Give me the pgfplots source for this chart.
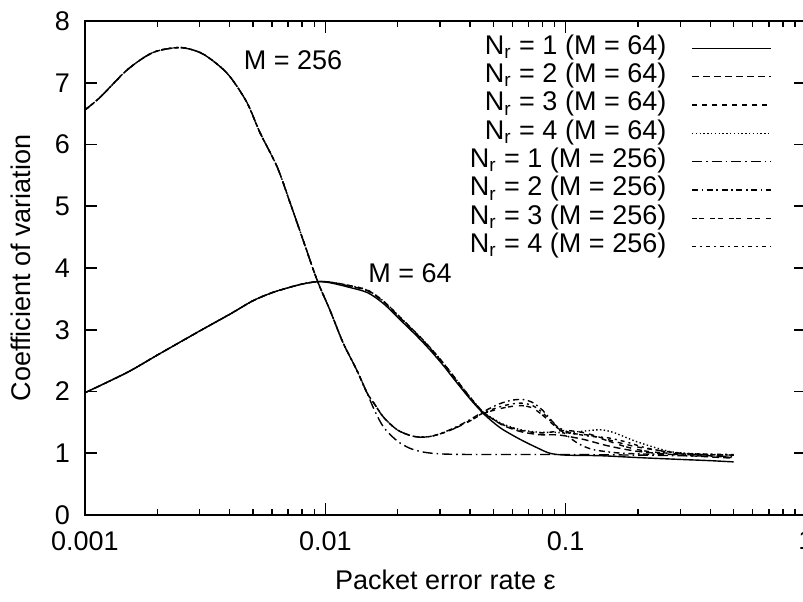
\documentclass[border=0pt]{standalone}
\usepackage{fontspec}
\setmainfont{Liberation Sans}
\usepackage{pgfplots}
\pgfplotsset{compat=1.18}
\newcommand{\Nr}{N\textsubscript{r}}
\begin{document}
\begin{tikzpicture}[font=\fontsize{13.5}{16}\selectfont]
\path[use as bounding box] (-42.5pt,-43pt) rectangle (359pt,257.5pt);
\begin{axis}[
  at={(0pt,0pt)}, anchor=south west,
  scale only axis, width=360.5pt, height=247pt,
  xmode=log, xmin=0.001, xmax=1, ymin=0, ymax=8,
  xtick={0.001,0.01,0.1,1}, xticklabels={0.001,0.01,0.1,1},
  minor xtick={0.002,0.003,0.004,0.005,0.006,0.007,0.008,0.009,0.02,0.03,0.04,0.05,0.06,0.07,0.08,0.09,0.2,0.3,0.4,0.5,0.6,0.7,0.8,0.9},
  ytick={0,1,2,3,4,5,6,7,8},
  /pgf/number format/assume math mode=true,
  axis line style={line width=1pt},
  major tick length=6pt, minor tick length=3pt,
  tick style={line width=0.8pt, black},
  tick label style={font=\fontsize{13.5}{16}\selectfont},
  label style={font=\fontsize{13.5}{16}\selectfont},
  yticklabel style={xshift=-4pt},
  xticklabel style={yshift=-4.6pt},
  xlabel={Packet error rate ε},
  ylabel={Coefficient of variation},
  xlabel style={at={(axis description cs:0.5,-0.1316)}, anchor=center},
  ylabel style={at={(axis description cs:-0.0888,0.5)}, anchor=center},
  legend style={at={(0.953,0.974)}, anchor=north east, draw=none, fill=none,
    inner sep=0pt, row sep=0pt, column sep=12.5pt,
    font=\fontsize{13.5}{16}\selectfont,
    nodes={inner sep=0pt, text height=10pt, text depth=4.15pt}},
  legend cell align=right, legend plot pos=right,
  legend image code/.code={\draw[#1] (0pt,0pt) -- (39.5pt,0pt);},
  every axis plot/.append style={line width=0.7pt, black, no markers},
]
% M = 64, Nr = 1
\addplot[solid, smooth, tension=0.5] coordinates {
(0.001,1.98)(0.0015,2.31)(0.002,2.59)(0.003,2.98)(0.004,3.25)(0.005,3.47)(0.006,3.60)(0.007,3.68)(0.008,3.74)(0.0093,3.78)(0.0105,3.76)(0.0125,3.69)(0.015,3.60)(0.0175,3.42)(0.0205,3.16)(0.024,2.90)(0.0273,2.67)(0.031,2.42)(0.034,2.22)(0.040,1.88)(0.0453,1.65)(0.050,1.50)(0.055,1.38)(0.065,1.22)(0.076,1.09)(0.086,1.00)(0.1,0.97)(0.14,0.96)(0.2,0.93)(0.3,0.90)(0.4,0.88)(0.5,0.86)};
\addlegendentry{\Nr{} = 1 (M = 64)}
% M = 64, Nr = 2
\addplot[dash pattern=on 3.5pt off 2pt, smooth, tension=0.5] coordinates {
(0.001,1.98)(0.0015,2.31)(0.002,2.59)(0.003,2.98)(0.004,3.25)(0.005,3.47)(0.006,3.60)(0.007,3.68)(0.008,3.74)(0.0093,3.78)(0.0105,3.77)(0.0125,3.71)(0.015,3.63)(0.0175,3.45)(0.0205,3.19)(0.024,2.93)(0.0273,2.70)(0.031,2.45)(0.034,2.25)(0.040,1.90)(0.0453,1.66)(0.050,1.55)(0.055,1.45)(0.065,1.35)(0.078,1.30)(0.09,1.30)(0.1,1.28)(0.12,1.22)(0.15,1.12)(0.2,1.03)(0.3,0.97)(0.5,0.92)};
\addlegendentry{\Nr{} = 2 (M = 64)}
% M = 64, Nr = 3
\addplot[dash pattern=on 2.5pt off 2.5pt, smooth, tension=0.5] coordinates {
(0.001,1.98)(0.0015,2.31)(0.002,2.59)(0.003,2.98)(0.004,3.25)(0.005,3.47)(0.006,3.60)(0.007,3.68)(0.008,3.74)(0.0093,3.78)(0.0105,3.77)(0.0125,3.72)(0.015,3.64)(0.0175,3.46)(0.0205,3.20)(0.024,2.94)(0.0273,2.71)(0.031,2.46)(0.034,2.26)(0.040,1.91)(0.0453,1.67)(0.050,1.55)(0.055,1.46)(0.065,1.37)(0.078,1.33)(0.09,1.35)(0.1,1.37)(0.12,1.33)(0.15,1.22)(0.2,1.10)(0.3,1.00)(0.5,0.93)};
\addlegendentry{\Nr{} = 3 (M = 64)}
% M = 64, Nr = 4
\addplot[dash pattern=on 0.7pt off 1.2pt, smooth, tension=0.5] coordinates {
(0.001,1.98)(0.0015,2.31)(0.002,2.59)(0.003,2.98)(0.004,3.25)(0.005,3.47)(0.006,3.60)(0.007,3.68)(0.008,3.74)(0.0093,3.78)(0.0105,3.77)(0.0125,3.72)(0.015,3.64)(0.0175,3.46)(0.0205,3.20)(0.024,2.94)(0.0273,2.71)(0.031,2.46)(0.034,2.26)(0.040,1.91)(0.0453,1.67)(0.050,1.56)(0.055,1.47)(0.065,1.38)(0.078,1.34)(0.09,1.34)(0.1,1.33)(0.12,1.36)(0.14,1.38)(0.16,1.33)(0.2,1.18)(0.27,1.03)(0.35,0.99)(0.5,0.97)};
\addlegendentry{\Nr{} = 4 (M = 64)}
% M = 256, Nr = 1
\addplot[dash pattern=on 5pt off 2pt on 0.8pt off 2pt, smooth, tension=0.5] coordinates {
(0.001,6.56)(0.00116,6.77)(0.0015,7.21)(0.00192,7.49)(0.00248,7.57)(0.00301,7.49)(0.0035,7.32)(0.00401,7.10)(0.00472,6.68)(0.00535,6.19)(0.0063,5.64)(0.00713,5.06)(0.00807,4.46)(0.00923,3.81)(0.0105,3.30)(0.01185,2.79)(0.0135,2.35)(0.0149,1.98)(0.016,1.70)(0.0175,1.42)(0.0199,1.20)(0.0225,1.08)(0.0255,1.02)(0.03,0.99)(0.04,0.98)(0.07,0.98)(0.1,0.98)(0.2,0.97)(0.3,0.96)(0.5,0.95)};
\addlegendentry{\Nr{} = 1 (M = 256)}
% M = 256, Nr = 2
\addplot[dash pattern=on 3pt off 1.8pt on 0.8pt off 1.8pt, smooth, tension=0.5] coordinates {
(0.001,6.56)(0.00116,6.77)(0.0015,7.21)(0.00192,7.49)(0.00248,7.57)(0.00301,7.49)(0.0035,7.32)(0.00401,7.10)(0.00472,6.68)(0.00535,6.19)(0.0063,5.64)(0.00713,5.06)(0.00807,4.46)(0.00923,3.81)(0.0105,3.30)(0.01185,2.79)(0.0135,2.35)(0.0149,1.98)(0.016,1.80)(0.0175,1.58)(0.0199,1.38)(0.0225,1.29)(0.0248,1.26)(0.028,1.28)(0.033,1.38)(0.039,1.52)(0.0453,1.67)(0.053,1.80)(0.06,1.86)(0.0665,1.87)(0.073,1.82)(0.08,1.70)(0.0878,1.52)(0.095,1.38)(0.105,1.24)(0.115,1.14)(0.13,1.06)(0.16,1.01)(0.2,0.99)(0.3,0.98)(0.5,0.97)};
\addlegendentry{\Nr{} = 2 (M = 256)}
% M = 256, Nr = 3
\addplot[dash pattern=on 2.5pt off 1.2pt on 2.5pt off 3pt, smooth, tension=0.5] coordinates {
(0.001,6.56)(0.00116,6.77)(0.0015,7.21)(0.00192,7.49)(0.00248,7.57)(0.00301,7.49)(0.0035,7.32)(0.00401,7.10)(0.00472,6.68)(0.00535,6.19)(0.0063,5.64)(0.00713,5.06)(0.00807,4.46)(0.00923,3.81)(0.0105,3.30)(0.01185,2.79)(0.0135,2.35)(0.0149,1.98)(0.016,1.80)(0.0175,1.58)(0.0199,1.38)(0.0225,1.29)(0.0248,1.26)(0.028,1.28)(0.033,1.37)(0.039,1.50)(0.0453,1.64)(0.053,1.72)(0.06,1.76)(0.0665,1.77)(0.073,1.73)(0.08,1.62)(0.0878,1.48)(0.095,1.38)(0.105,1.32)(0.115,1.31)(0.13,1.28)(0.15,1.20)(0.18,1.10)(0.22,1.03)(0.3,0.99)(0.5,0.97)};
\addlegendentry{\Nr{} = 3 (M = 256)}
% M = 256, Nr = 4
\addplot[dash pattern=on 2pt off 2pt on 1pt off 2pt, smooth, tension=0.5] coordinates {
(0.001,6.56)(0.00116,6.77)(0.0015,7.21)(0.00192,7.49)(0.00248,7.57)(0.00301,7.49)(0.0035,7.32)(0.00401,7.10)(0.00472,6.68)(0.00535,6.19)(0.0063,5.64)(0.00713,5.06)(0.00807,4.46)(0.00923,3.81)(0.0105,3.30)(0.01185,2.79)(0.0135,2.35)(0.0149,1.98)(0.016,1.80)(0.0175,1.58)(0.0199,1.38)(0.0225,1.29)(0.0248,1.26)(0.028,1.28)(0.033,1.37)(0.039,1.51)(0.0453,1.65)(0.053,1.75)(0.06,1.80)(0.0665,1.81)(0.073,1.77)(0.08,1.66)(0.0878,1.50)(0.095,1.40)(0.105,1.33)(0.115,1.30)(0.13,1.27)(0.15,1.25)(0.18,1.18)(0.22,1.08)(0.3,1.00)(0.5,0.98)};
\addlegendentry{\Nr{} = 4 (M = 256)}
\node[font=\fontsize{13.5}{16}\selectfont] at (axis cs:0.00734,7.37) {M = 256};
\node[font=\fontsize{13.5}{16}\selectfont] at (axis cs:0.0225,3.91) {M = 64};
\end{axis}
\end{tikzpicture}
\end{document}
